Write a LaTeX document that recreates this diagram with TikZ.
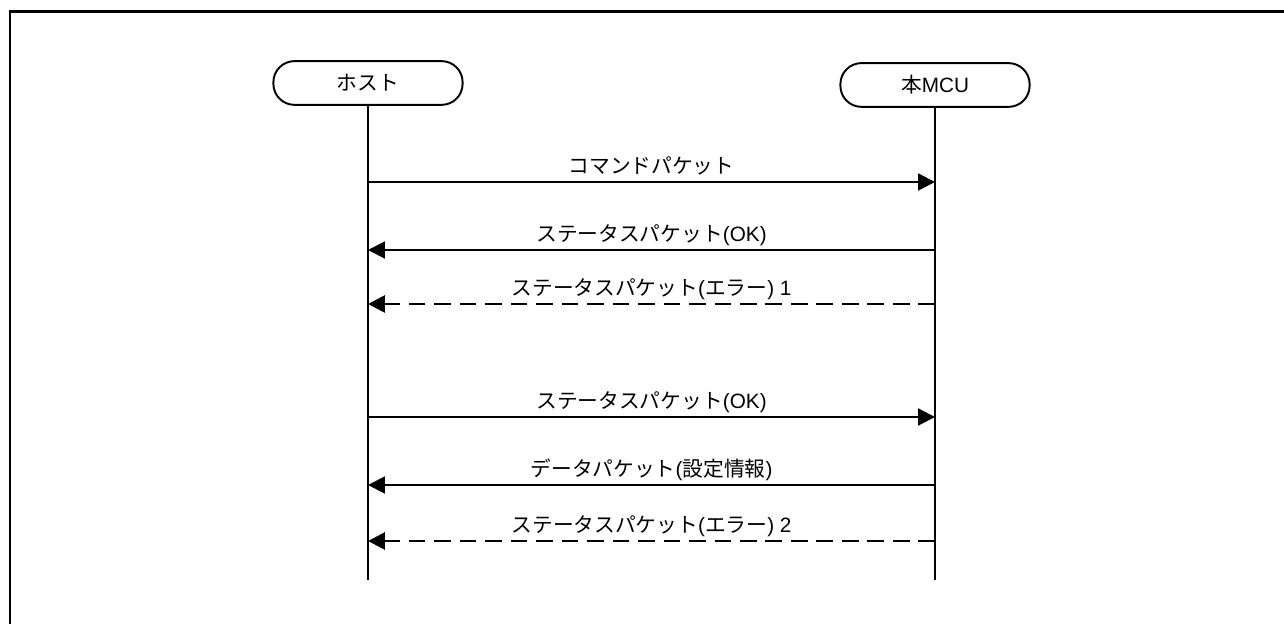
\documentclass[tikz,border=0pt]{standalone}
\usepackage{fontspec}
\setmainfont{Liberation Sans}
\newfontfamily\jp{Noto Sans CJK JP}
\usetikzlibrary{arrows.meta}
\tikzset{
  actor/.style={draw, line width=1.1pt, rounded corners=12pt, minimum width=107.7pt,
    minimum height=24.9pt, inner sep=0pt, font=\fontsize{11.8}{13}\selectfont},
  msg/.style={line width=1.2pt, -{Triangle[length=9.6pt,width=9.6pt]}},
  errmsg/.style={msg, line width=1.6pt, dash pattern=on 9.5pt off 5pt},
  lbl/.style={font=\fontsize{11.8}{13}\selectfont, inner sep=0pt, anchor=base, midway, yshift=5.1pt}
}

\begin{document}
\begin{tikzpicture}[x=0.02cm, y=-0.02cm]
\useasboundingbox (0,0) rectangle (1284,624);
% frame
\draw[line width=1.7pt] (10,624) -- (10,12) -- (1284,12);
% actors and lifelines
\node[actor] (host) at (368,83) {\jp ホスト};
\node[actor] (mcu) at (935,85) {\jp 本\rm MCU};
\coordinate (hend) at (368,580);
\coordinate (mend) at (935,580);
\draw[line width=1.1pt] (host.south) -- (hend);
\draw[line width=1.1pt] (mcu.south) -- (mend);
% messages
\coordinate (h1) at (368,182); \coordinate (m1) at (935,182);
\coordinate (h2) at (368,250); \coordinate (m2) at (935,250);
\coordinate (h3) at (368,304); \coordinate (m3) at (935,304);
\coordinate (h4) at (368,417); \coordinate (m4) at (935,417);
\coordinate (h5) at (368,485); \coordinate (m5) at (935,485);
\coordinate (h6) at (368,541); \coordinate (m6) at (935,541);
\draw[msg] (h1) -- (m1) node[lbl] (l1) {\jp コマンドパケット};
\draw[msg] (m2) -- (h2) node[lbl] (l2) {{\jp ステータスパケット}(OK)};
\draw[errmsg] (m3) -- (h3) node[lbl] (l3) {{\jp ステータスパケット}({\jp エラー}) 1};
\draw[msg] (h4) -- (m4) node[lbl] (l4) {{\jp ステータスパケット}(OK)};
\draw[msg] (m5) -- (h5) node[lbl] (l5) {{\jp データパケット}({\jp 設定情報})};
\draw[errmsg] (m6) -- (h6) node[lbl] (l6) {{\jp ステータスパケット}({\jp エラー}) 2};
\end{tikzpicture}
\end{document}
